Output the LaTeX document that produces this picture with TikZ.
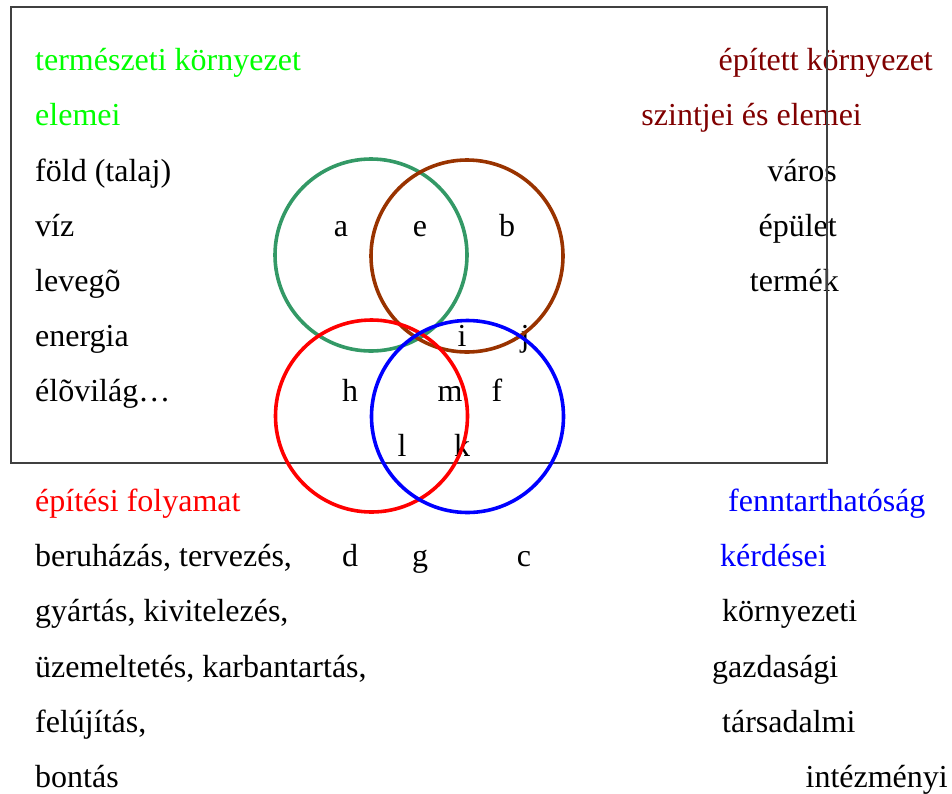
\documentclass[tikz,border=0pt]{standalone}
\usepackage{fontspec}
\setmainfont{Liberation Serif}
\usepackage{xcolor}
\usetikzlibrary{positioning}
\definecolor{kgreen}{HTML}{00FF00}
\definecolor{kmaroon}{HTML}{800000}
\definecolor{ksea}{HTML}{339966}
\definecolor{kbrown}{HTML}{993300}
\tikzset{
  txt/.style={inner sep=0pt, anchor=base west, font=\fontsize{32}{38}\selectfont},
  rtxt/.style={txt, anchor=base east},
  lbl/.style={txt, anchor=base},
  setc/.style={circle, draw, line width=3.6pt, minimum size=192pt, inner sep=0pt},
  frame/.style={draw=black!75, line width=1.2pt},
}
\begin{document}
\begin{tikzpicture}[x=1pt,y=-1pt]
\useasboundingbox (0,0) rectangle (952,793);
% --- left: natural environment
\node[txt,text=kgreen] (n0) at (35,70) {természeti környezet};
\node[txt,text=kgreen] (n1) at (35,125) {elemei};
\node[txt] (n2) at (35,181) {föld (talaj)};
\node[txt] (n3) at (35,236) {víz};
\node[txt] (n4) at (35,291) {levegõ};
\node[txt] (n5) at (35,346) {energia};
\node[txt] (n6) at (35,401) {élõvilág…};

% --- right: built environment
\node[rtxt,text=kmaroon] (b0) at (933,70) {épített környezet};
\node[rtxt,text=kmaroon] (b1) at (862,125) {szintjei és elemei};
\node[rtxt] (b2) at (837,181) {város};
\node[rtxt] (b3) at (837,236) {épület};
\node[rtxt] (b4) at (839,291) {termék};

% --- bottom left: building process
\node[txt,text=red] (p0) at (35,511) {építési folyamat};
\node[txt] (p1) at (35,566) {beruházás, tervezés,};
\node[txt] (p2) at (35,621) {gyártás, kivitelezés,};
\node[txt] (p3) at (35,677) {üzemeltetés, karbantartás,};
\node[txt] (p4) at (35,732) {felújítás,};
\node[txt] (p5) at (35,787) {bontás};

% --- bottom right: sustainability
\node[txt,text=blue] (s0) at (728,511) {fenntarthatóság};
\node[txt,text=blue] (s1) at (720,566) {kérdései};
\node[txt] (s2) at (722,621) {környezeti};
\node[txt] (s3) at (712,677) {gazdasági};
\node[txt] (s4) at (722,732) {társadalmi};
\node[rtxt] (s5) at (948,787) {intézményi};

% --- region letters
\node[lbl] (la) at (341,236) {a};
\node[lbl] (le) at (420,236) {e};
\node[lbl] (lb) at (507,236) {b};
\node[lbl] (li) at (462,346) {i};
\node[lbl] (lj) at (525,346) {j};
\node[lbl] (lh) at (350,401) {h};
\node[lbl] (lm) at (450,401) {m};
\node[lbl] (lf) at (497,401) {f};
\node[lbl] (ll) at (402,456) {l};
\node[lbl] (lk) at (462,456) {k};
\node[lbl] (ld) at (350,566) {d};
\node[lbl] (lg) at (420,566) {g};
\node[lbl] (lc) at (524,566) {c};

% --- frame and sets
\draw[frame] (11,7) rectangle (827,463);
\node[setc,draw=ksea] (cnat) at (371,255) {};
\node[setc,draw=kbrown] (cbuilt) at (467,256) {};
\node[setc,draw=red] (cproc) at (371.5,416) {};
\node[setc,draw=blue] (csust) at (467.5,416.5) {};
\end{tikzpicture}
\end{document}
